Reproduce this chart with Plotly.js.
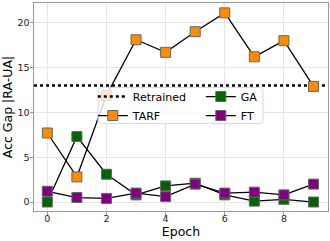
<!DOCTYPE html>
<html><head><meta charset="utf-8">
<script src="https://cdn.plot.ly/plotly-3.0.1.min.js"></script>
<style>html,body{margin:0;padding:0;background:#fff}#c{width:330px;height:241px}</style>
</head><body><div id="c"></div>
<script>
const epochs = [0,1,2,3,4,5,6,7,8,9];
const tarf = [7.7, 2.8, 11.9, 18.1, 16.7, 19.0, 21.1, 16.2, 18.0, 12.9];
const ga   = [0.0, 7.3, 3.1, 0.8, 1.8, 2.1, 0.8, 0.1, 0.3, 0.0];
const ft   = [1.2, 0.5, 0.4, 1.0, 0.6, 2.0, 1.0, 1.1, 0.8, 2.0];
const retrained = 13.0;
const xRange = [-0.45, 9.49];
const yRange = [-1.0, 22.2];

const font = {family: 'DejaVu Sans', color: '#000'};
const mk = (c) => ({symbol: 'square', size: 10, color: c, line: {color: '#666', width: 1}});
const traces = [
  {x: xRange, y: [retrained, retrained], mode: 'lines', name: 'Retrained',
   line: {color: '#000', width: 2.5, dash: 'dot'}, legendrank: 1},
  {x: epochs, y: tarf, mode: 'lines+markers', name: 'TARF',
   line: {color: '#000', width: 1.3}, marker: mk('#FF8C00'), legendrank: 3},
  {x: epochs, y: ga, mode: 'lines+markers', name: 'GA',
   line: {color: '#000', width: 1.3}, marker: mk('#006400'), legendrank: 2},
  {x: epochs, y: ft, mode: 'lines+markers', name: 'FT',
   line: {color: '#000', width: 1.3}, marker: mk('#800080'), legendrank: 4}
];
const axisCommon = {
  showline: true, mirror: true, linecolor: '#999', linewidth: 1,
  showgrid: true, gridcolor: '#e6e6e6', gridwidth: 1, zeroline: false,
  ticks: 'outside', ticklen: 3.5, tickcolor: '#999',
  tickfont: {family: 'DejaVu Sans', size: 9.5, color: '#222'}
};
// legend frame (paper coords) with rounded corners
const bx0 = 0.218, bx1 = 0.779, by0 = 0.420, by1 = 0.594, rx = 0.011, ry = 0.015;
const framePath = `M ${bx0+rx},${by0} L ${bx1-rx},${by0} Q ${bx1},${by0} ${bx1},${by0+ry} ` +
  `L ${bx1},${by1-ry} Q ${bx1},${by1} ${bx1-rx},${by1} L ${bx0+rx},${by1} ` +
  `Q ${bx0},${by1} ${bx0},${by1-ry} L ${bx0},${by0+ry} Q ${bx0},${by0} ${bx0+rx},${by0} Z`;
const layout = {
  width: 330, height: 241,
  margin: {l: 34, r: 2, t: 3, b: 30},
  paper_bgcolor: '#fff', plot_bgcolor: '#fff',
  font: font,
  showlegend: true,
  xaxis: Object.assign({}, axisCommon, {range: xRange, tickvals: [0,2,4,6,8],
    ticklabelstandoff: -5,
    title: {text: 'Epoch', font: {family: 'DejaVu Sans', size: 12.5}, standoff: 2}}),
  yaxis: Object.assign({}, axisCommon, {range: yRange, tickvals: [0,5,10,15,20],
    ticklabelstandoff: -2,
    title: {text: 'Acc Gap |RA-UA|', font: {family: 'DejaVu Sans', size: 12.5}, standoff: 4}}),
  shapes: [{type: 'path', xref: 'paper', yref: 'paper', path: framePath, layer: 'above',
    fillcolor: 'rgba(255,255,255,0.8)', line: {color: '#d8d8d8', width: 1}}],
  legend: {
    orientation: 'h', x: 0.2, y: 0.62, xanchor: 'left', yanchor: 'top',
    bgcolor: 'rgba(0,0,0,0)', borderwidth: 0,
    font: {family: 'DejaVu Sans', size: 11, color: '#000'},
    entrywidth: 63, itemwidth: 30, tracegroupgap: 0
  }
};
Plotly.newPlot('c', traces, layout, {displayModeBar: false, staticPlot: true});
</script>
</body></html>
